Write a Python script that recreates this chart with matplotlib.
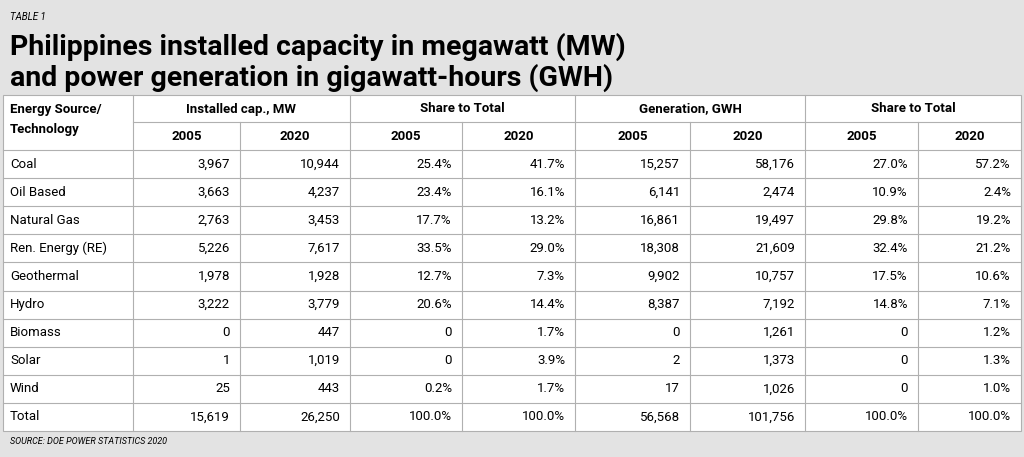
import matplotlib
matplotlib.use('Agg')
import matplotlib.pyplot as plt
from matplotlib.patches import Rectangle
from matplotlib import font_manager

names = {f.name for f in font_manager.fontManager.ttflist}
cond = 'Liberation Sans Narrow' if 'Liberation Sans Narrow' in names else 'Roboto'

sources = ['Coal', 'Oil Based', 'Natural Gas', 'Ren. Energy (RE)', 'Geothermal', 'Hydro',
           'Biomass', 'Solar', 'Wind', 'Total']
cap_2005 = ['3,967', '3,663', '2,763', '5,226', '1,978', '3,222', '0', '1', '25', '15,619']
cap_2020 = ['10,944', '4,237', '3,453', '7,617', '1,928', '3,779', '447', '1,019', '443', '26,250']
cap_share_2005 = ['25.4%', '23.4%', '17.7%', '33.5%', '12.7%', '20.6%', '0', '0', '0.2%', '100.0%']
cap_share_2020 = ['41.7%', '16.1%', '13.2%', '29.0%', '7.3%', '14.4%', '1.7%', '3.9%', '1.7%', '100.0%']
gen_2005 = ['15,257', '6,141', '16,861', '18,308', '9,902', '8,387', '0', '2', '17', '56,568']
gen_2020 = ['58,176', '2,474', '19,497', '21,609', '10,757', '7,192', '1,261', '1,373', '1,026', '101,756']
gen_share_2005 = ['27.0%', '10.9%', '29.8%', '32.4%', '17.5%', '14.8%', '0', '0', '0', '100.0%']
gen_share_2020 = ['57.2%', '2.4%', '19.2%', '21.2%', '10.6%', '7.1%', '1.2%', '1.3%', '1.0%', '100.0%']
groups = ['Installed cap., MW', 'Share to Total', 'Generation, GWH', 'Share to Total']
years = ['2005', '2020']

W, H = 1024, 457
fig = plt.figure(figsize=(W / 100, H / 100), dpi=100)
ax = fig.add_axes([0, 0, 1, 1])
ax.set_xlim(0, W)
ax.set_ylim(H, 0)
ax.axis('off')

grey = '#e3e3e3'
line = '#b0b0b0'
ax.add_patch(Rectangle((0, 0), W, H, color=grey))
ax.add_patch(Rectangle((3, 95), W - 6, 336, facecolor='white', edgecolor=line, lw=0.8))

ax.text(10, 17, 'TABLE 1', fontsize=7, style='italic', family=cond, va='center')
ax.text(10, 47, 'Philippines installed capacity in megawatt (MW)', fontsize=20.5, weight='bold',
        family=cond, va='center')
ax.text(10, 78, 'and power generation in gigawatt-hours (GWH)', fontsize=20.5, weight='bold',
        family=cond, va='center')

xs = [3, 133, 240, 350, 462, 575, 690, 805, 918, 1021]
row_tops = [150 + 28.1 * i for i in range(11)]

# grid lines
for i, x in enumerate(xs[1:-1], start=1):
    ax.plot([x, x], [95 if i % 2 == 1 else 122, 431], color=line, lw=0.8)
ax.plot([133, 1021], [122, 122], color=line, lw=0.8)
for y in row_tops[:-1]:
    ax.plot([3, 1021], [y, y], color=line, lw=0.8)

fs = 9.5
ax.text(10, 109, 'Energy Source/', fontsize=fs, weight='bold', family=cond, va='center')
ax.text(10, 130, 'Technology', fontsize=fs, weight='bold', family=cond, va='center')
for g, name in enumerate(groups):
    x0, x1 = xs[1 + 2 * g], xs[3 + 2 * g]
    ax.text((x0 + x1) / 2, 109, name, fontsize=fs, weight='bold', family=cond, ha='center', va='center')
    for k, yr in enumerate(years):
        c = (xs[1 + 2 * g + k] + xs[2 + 2 * g + k]) / 2
        ax.text(c, 137, yr, fontsize=fs, weight='bold', family=cond, ha='center', va='center')

cols = [cap_2005, cap_2020, cap_share_2005, cap_share_2020, gen_2005, gen_2020,
        gen_share_2005, gen_share_2020]
for i, src in enumerate(sources):
    yc = (row_tops[i] + row_tops[i + 1]) / 2
    ax.text(10, yc, src, fontsize=fs, family=cond, va='center')
    for j, col in enumerate(cols):
        ax.text(xs[j + 2] - 10, yc, col[i], fontsize=fs, family=cond, ha='right', va='center')

ax.text(10, 441, 'SOURCE: DOE POWER STATISTICS 2020', fontsize=6.5, style='italic', family=cond,
        va='center')

fig.savefig('out.png', dpi=100)
